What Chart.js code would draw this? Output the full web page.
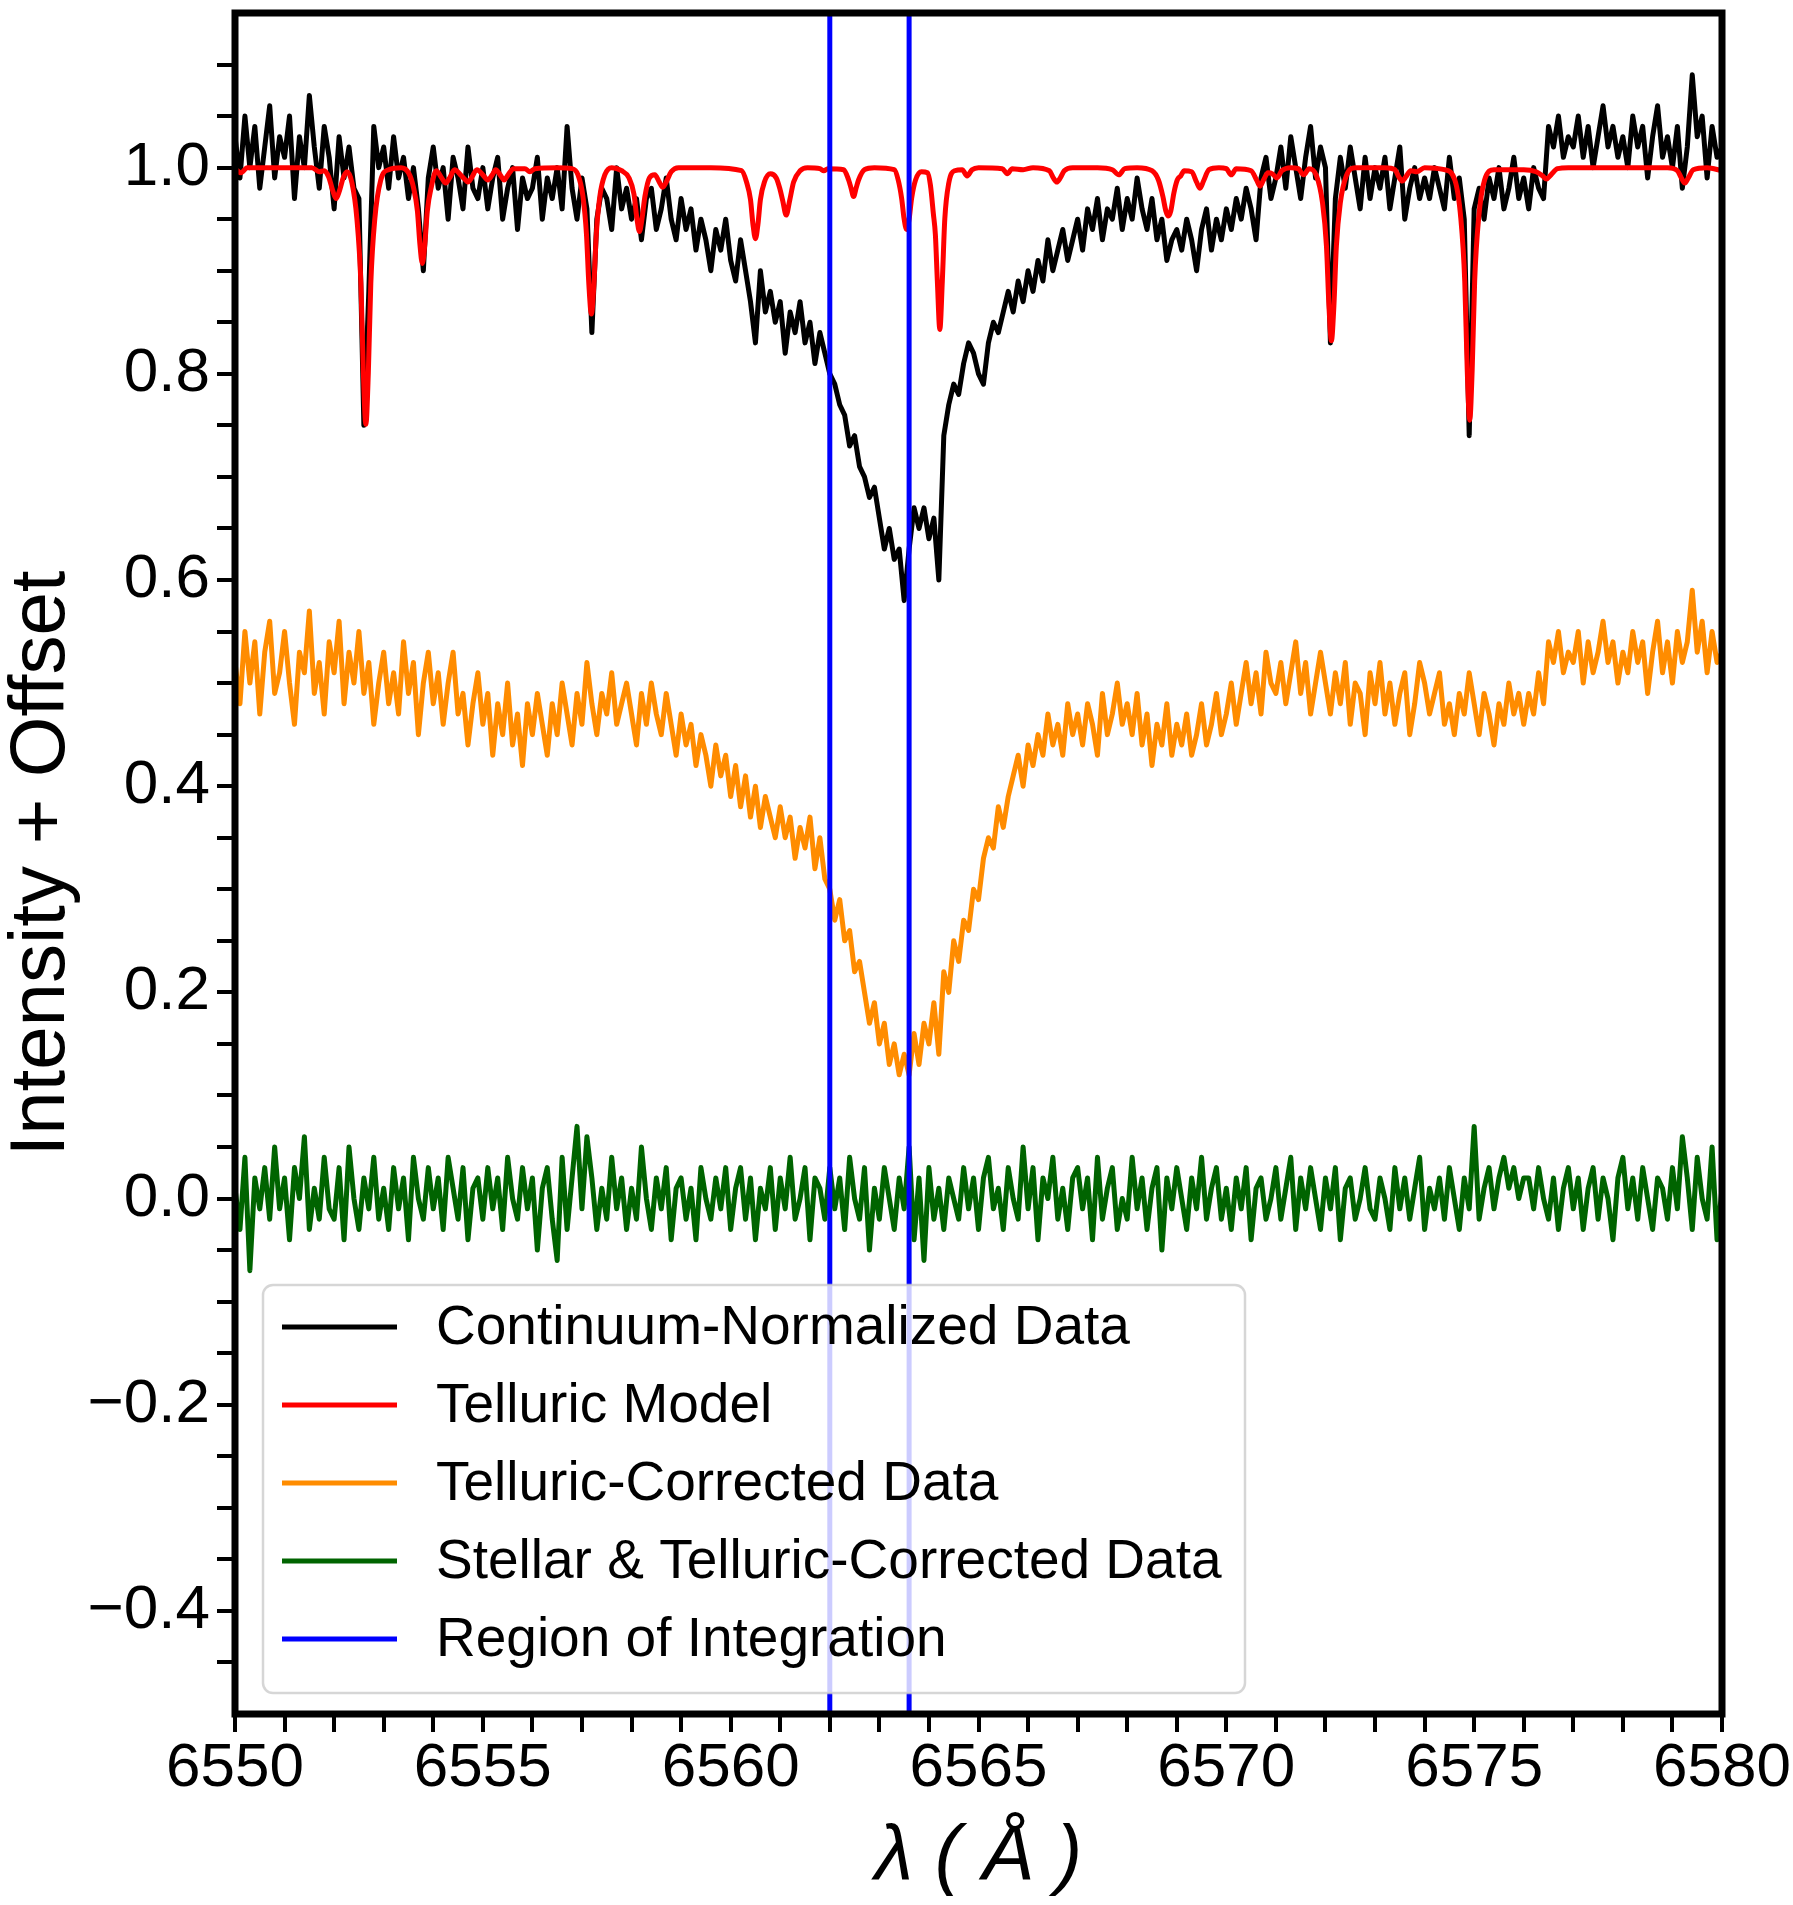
<!DOCTYPE html>
<html>
<head>
<meta charset="utf-8">
<title>Telluric correction around H-alpha</title>
<script src="https://cdn.jsdelivr.net/npm/chart.js@4.4.1/dist/chart.umd.min.js"></script>
<style>
  html, body { margin: 0; padding: 0; background: #fff; }
  #wrap { width: 1793px; height: 1905px; position: relative; }
</style>
</head>
<body>
<div id="wrap"><canvas id="spectrumChart"></canvas></div>
<script>
// Wavelength grid of the observed spectra (Angstrom)
const waveStart = 6550.0;
const waveStep = 0.1;

// Continuum-normalized data, one value per 0.1 A (6550.0 ... 6580.0)
const normalizedFlux = [
  1.03, 0.99, 1.05, 1.00, 1.04, 0.98, 1.02, 1.06, 0.99, 1.03,
  1.01, 1.05, 0.97, 1.03, 1.00, 1.07, 1.02, 0.98, 1.04, 1.01,
  0.96, 1.03, 0.99, 1.02, 0.98, 0.97, 0.75, 0.88, 1.04, 1.00,
  1.02, 0.98, 1.03, 0.99, 1.01, 0.97, 1.00, 0.96, 0.90, 0.99,
  1.02, 0.98, 1.00, 0.95, 1.01, 0.99, 0.96, 1.02, 0.98, 0.97,
  1.00, 0.96, 0.99, 1.01, 0.95, 0.98, 1.00, 0.94, 0.99, 0.97,
  0.98, 1.01, 0.95, 0.99, 0.97, 1.00, 0.96, 1.04, 0.98, 0.95,
  0.99, 0.96, 0.84, 0.95, 0.98, 0.97, 0.94, 1.00, 0.96, 0.98,
  0.95, 0.97, 0.93, 0.97, 0.98, 0.94, 0.96, 0.99, 0.95, 0.93,
  0.97, 0.94, 0.96, 0.92, 0.95, 0.93, 0.90, 0.94, 0.92, 0.95,
  0.91, 0.89, 0.93, 0.90, 0.87, 0.83, 0.90, 0.86, 0.88, 0.85,
  0.87, 0.82, 0.86, 0.84, 0.87, 0.83, 0.85, 0.81, 0.84, 0.82,
  0.80, 0.79, 0.77, 0.76, 0.73, 0.74, 0.71, 0.70, 0.68, 0.69,
  0.66, 0.63, 0.65, 0.62, 0.63, 0.58, 0.63, 0.67, 0.65, 0.67,
  0.64, 0.66, 0.60, 0.74, 0.77, 0.79, 0.78, 0.81, 0.83, 0.82,
  0.80, 0.79, 0.83, 0.85, 0.84, 0.86, 0.88, 0.86, 0.89, 0.87,
  0.90, 0.88, 0.91, 0.89, 0.93, 0.90, 0.92, 0.94, 0.91, 0.93,
  0.95, 0.92, 0.96, 0.94, 0.97, 0.93, 0.96, 0.95, 0.98, 0.94,
  0.97, 0.95, 0.99, 0.96, 0.94, 0.97, 0.93, 0.95, 0.91, 0.93,
  0.94, 0.92, 0.95, 0.93, 0.90, 0.94, 0.96, 0.92, 0.95, 0.93,
  0.96, 0.94, 0.97, 0.95, 0.98, 0.96, 0.93, 0.99, 1.01, 0.97,
  0.99, 1.02, 0.98, 1.03, 1.00, 0.97, 1.01, 1.04, 0.99, 1.02,
  1.00, 0.83, 0.97, 1.01, 0.98, 1.02, 0.99, 0.96, 1.01, 0.97,
  1.00, 0.98, 1.01, 0.96, 0.99, 1.02, 0.95, 0.98, 1.00, 0.97,
  0.99, 0.97, 1.00, 0.98, 0.96, 1.01, 0.97, 0.99, 0.95, 0.74,
  0.96, 0.98, 0.95, 0.99, 0.97, 1.00, 0.96, 0.98, 1.01, 0.97,
  0.99, 0.96, 1.00, 0.98, 0.97, 1.04, 1.02, 1.05, 1.01, 1.03,
  1.02, 1.05, 1.01, 1.04, 1.00, 1.03, 1.06, 1.02, 1.04, 1.01,
  1.03, 1.00, 1.05, 1.02, 1.04, 0.99, 1.03, 1.06, 1.01, 1.03,
  1.00, 1.04, 0.98, 1.02, 1.09, 1.03, 1.05, 0.99, 1.04, 1.01,
  1.02
];

// Telluric-corrected data (already shifted by -0.5), same grid
const correctedFlux = [
  0.52, 0.48, 0.55, 0.50, 0.54, 0.47, 0.53, 0.56, 0.49, 0.51,
  0.55, 0.50, 0.46, 0.53, 0.51, 0.57, 0.49, 0.52, 0.47, 0.54,
  0.51, 0.56, 0.48, 0.53, 0.50, 0.55, 0.49, 0.52, 0.46, 0.50,
  0.53, 0.48, 0.51, 0.47, 0.54, 0.49, 0.52, 0.45, 0.50, 0.53,
  0.48, 0.51, 0.46, 0.50, 0.53, 0.47, 0.49, 0.44, 0.48, 0.51,
  0.46, 0.49, 0.43, 0.48, 0.45, 0.50, 0.44, 0.47, 0.42, 0.48,
  0.45, 0.49, 0.46, 0.43, 0.48, 0.45, 0.50, 0.47, 0.44, 0.49,
  0.46, 0.52, 0.48, 0.45, 0.49, 0.47, 0.51, 0.46, 0.48, 0.50,
  0.47, 0.44, 0.49, 0.46, 0.50, 0.47, 0.45, 0.49, 0.46, 0.43,
  0.47, 0.44, 0.46, 0.42, 0.45, 0.43, 0.40, 0.44, 0.41, 0.43,
  0.39, 0.42, 0.38, 0.41, 0.37, 0.40, 0.36, 0.39, 0.37, 0.35,
  0.38, 0.35, 0.37, 0.33, 0.36, 0.34, 0.37, 0.32, 0.35, 0.31,
  0.30, 0.27, 0.29, 0.25, 0.26, 0.22, 0.23, 0.20, 0.17, 0.19,
  0.15, 0.17, 0.13, 0.15, 0.12, 0.14, 0.12, 0.16, 0.13, 0.17,
  0.15, 0.19, 0.14, 0.22, 0.20, 0.25, 0.23, 0.27, 0.26, 0.30,
  0.29, 0.33, 0.35, 0.34, 0.38, 0.36, 0.39, 0.41, 0.43, 0.40,
  0.44, 0.42, 0.45, 0.43, 0.47, 0.44, 0.46, 0.43, 0.48, 0.45,
  0.47, 0.44, 0.48, 0.46, 0.43, 0.49, 0.45, 0.47, 0.50, 0.46,
  0.48, 0.45, 0.49, 0.44, 0.47, 0.42, 0.46, 0.44, 0.48, 0.43,
  0.46, 0.44, 0.47, 0.43, 0.45, 0.48, 0.44, 0.46, 0.49, 0.45,
  0.47, 0.50, 0.46, 0.49, 0.52, 0.48, 0.51, 0.47, 0.53, 0.50,
  0.49, 0.52, 0.48, 0.51, 0.54, 0.49, 0.52, 0.47, 0.50, 0.53,
  0.50, 0.47, 0.51, 0.48, 0.52, 0.46, 0.50, 0.49, 0.45, 0.51,
  0.48, 0.52, 0.47, 0.50, 0.46, 0.49, 0.51, 0.45, 0.48, 0.52,
  0.50, 0.47, 0.49, 0.51, 0.46, 0.48, 0.45, 0.49, 0.47, 0.51,
  0.48, 0.45, 0.49, 0.47, 0.44, 0.48, 0.46, 0.50, 0.47, 0.49,
  0.46, 0.49, 0.47, 0.51, 0.48, 0.54, 0.52, 0.55, 0.51, 0.53,
  0.52, 0.55, 0.50, 0.54, 0.51, 0.53, 0.56, 0.52, 0.54, 0.50,
  0.53, 0.51, 0.55, 0.52, 0.54, 0.49, 0.53, 0.56, 0.51, 0.54,
  0.50, 0.55, 0.52, 0.54, 0.59, 0.53, 0.56, 0.51, 0.55, 0.52,
  0.53
];

// Stellar & telluric-corrected residuals, same grid
const residualFlux = [
  0.01, -0.03, 0.04, -0.07, 0.02, -0.01, 0.03, -0.02, 0.05, -0.01,
  0.02, -0.04, 0.03, 0.00, 0.06, -0.03, 0.01, -0.02, 0.04, -0.01,
  -0.02, 0.03, -0.04, 0.05, 0.00, -0.03, 0.02, -0.01, 0.04, -0.02,
  0.01, -0.03, 0.03, -0.01, 0.02, -0.04, 0.04, 0.00, -0.02, 0.03,
  -0.01, 0.02, -0.03, 0.04, 0.01, -0.02, 0.03, -0.04, 0.01, 0.02,
  -0.02, 0.03, -0.01, 0.02, -0.03, 0.04, 0.00, -0.02, 0.03, -0.01,
  0.02, -0.05, 0.01, 0.03, -0.02, -0.06, 0.04, -0.03, 0.02, 0.07,
  -0.01, 0.06, 0.02, -0.03, 0.01, -0.02, 0.04, -0.01, 0.02, -0.03,
  0.01, -0.02, 0.05, 0.00, -0.03, 0.02, -0.01, 0.03, -0.04, 0.01,
  0.02, -0.02, 0.01, -0.04, 0.03, 0.00, -0.02, 0.02, -0.01, 0.03,
  -0.03, 0.01, 0.03, -0.02, 0.02, -0.04, 0.01, -0.01, 0.03, -0.03,
  0.02, -0.01, 0.04, -0.02, 0.00, 0.03, -0.04, 0.02, 0.01, -0.02,
  0.03, -0.01, 0.02, -0.03, 0.04, 0.00, -0.02, 0.03, -0.05, 0.01,
  -0.02, 0.03, 0.00, -0.03, 0.02, -0.01, 0.05, -0.04, 0.02, -0.06,
  0.03, -0.02, 0.01, -0.03, 0.02, 0.00, -0.02, 0.03, -0.01, 0.02,
  -0.03, 0.02, 0.04, -0.01, 0.01, -0.03, 0.03, 0.00, -0.02, 0.05,
  -0.01, 0.03, -0.04, 0.02, 0.00, 0.04, -0.02, 0.01, -0.03, 0.02,
  0.03, -0.01, 0.02, -0.04, 0.04, -0.02, 0.01, 0.03, -0.03, 0.00,
  -0.02, 0.04, -0.01, 0.02, -0.03, 0.01, 0.03, -0.05, 0.02, -0.01,
  0.03, 0.00, -0.03, 0.02, -0.01, 0.04, -0.02, 0.01, 0.03, -0.02,
  0.01, -0.03, 0.02, -0.01, 0.03, -0.04, 0.01, 0.02, -0.02, 0.00,
  0.03, -0.02, 0.01, 0.04, -0.03, 0.02, -0.01, 0.03, 0.00, -0.03,
  0.02, -0.01, 0.03, -0.04, 0.01, 0.02, -0.02, 0.00, 0.03, -0.01,
  -0.02, 0.02, 0.00, -0.03, 0.03, -0.01, 0.02, -0.02, 0.01, 0.04,
  -0.03, 0.01, -0.01, 0.02, -0.02, 0.03, 0.00, -0.03, 0.02, -0.01,
  0.07, -0.02, 0.01, 0.03, -0.01, 0.02, 0.04, 0.01, 0.03, 0.00,
  0.02, 0.02, -0.01, 0.03, 0.00, -0.02, 0.02, -0.03, 0.01, 0.03,
  -0.01, 0.02, -0.03, 0.01, 0.03, -0.02, 0.02, 0.00, -0.04, 0.02,
  0.04, -0.01, 0.02, -0.02, 0.03, 0.00, -0.03, 0.02, 0.01, -0.02,
  0.03, -0.01, 0.06, 0.02, -0.03, 0.04, 0.00, -0.02, 0.05, -0.04,
  0.01
];

// Telluric model: [wavelength, transmission]
const telluricPoints = [
  [6550.00, 0.999], [6550.12, 0.995], [6550.25, 1.000],
  [6551.55, 1.000], [6551.70, 0.996], [6551.80, 0.997],
  [6551.89, 0.991], [6551.97, 0.978], [6552.04, 0.970], [6552.11, 0.978], [6552.19, 0.991], [6552.26, 0.996],
  [6552.36, 0.985], [6552.46, 0.950], [6552.54, 0.888], [6552.59, 0.801], [6552.64, 0.751], [6552.69, 0.801],
  [6552.74, 0.888], [6552.82, 0.950], [6552.94, 0.988], [6553.10, 0.998], [6553.35, 1.000],
  [6553.50, 0.995], [6553.60, 0.981], [6553.68, 0.958], [6553.73, 0.926], [6553.78, 0.907], [6553.83, 0.926],
  [6553.88, 0.958], [6553.96, 0.981], [6554.06, 0.997],
  [6554.17, 0.990], [6554.25, 0.985], [6554.33, 0.990], [6554.43, 0.998],
  [6554.55, 0.993], [6554.63, 0.989], [6554.70, 0.986], [6554.77, 0.990], [6554.88, 0.998],
  [6555.00, 0.993], [6555.10, 0.988], [6555.19, 0.993], [6555.26, 0.998],
  [6555.35, 0.993], [6555.43, 0.988], [6555.51, 0.993], [6555.62, 0.999],
  [6555.85, 0.999], [6555.95, 0.996], [6556.05, 0.999], [6556.50, 1.000], [6556.80, 0.999],
  [6556.92, 0.993], [6557.02, 0.972], [6557.09, 0.936], [6557.14, 0.886], [6557.19, 0.858], [6557.24, 0.886],
  [6557.29, 0.936], [6557.36, 0.972], [6557.46, 0.993], [6557.60, 1.000],
  [6557.80, 0.997], [6557.95, 0.990], [6558.05, 0.974], [6558.11, 0.950], [6558.16, 0.938], [6558.21, 0.950],
  [6558.27, 0.972], [6558.36, 0.990],
  [6558.47, 0.993], [6558.56, 0.986], [6558.63, 0.981], [6558.70, 0.986], [6558.80, 0.996], [6558.95, 1.000],
  [6559.60, 1.000],
  [6560.22, 0.997], [6560.32, 0.986], [6560.40, 0.969], [6560.45, 0.945], [6560.50, 0.931], [6560.55, 0.945],
  [6560.60, 0.969], [6560.68, 0.986], [6560.80, 0.994],
  [6560.92, 0.990], [6560.99, 0.980], [6561.05, 0.968], [6561.12, 0.954], [6561.19, 0.968], [6561.27, 0.986],
  [6561.40, 0.997], [6561.55, 1.000],
  [6561.80, 0.999], [6561.88, 0.997], [6561.96, 0.999],
  [6562.28, 0.998], [6562.38, 0.988], [6562.43, 0.980], [6562.48, 0.972], [6562.53, 0.980], [6562.58, 0.988],
  [6562.70, 0.998], [6562.90, 1.000],
  [6563.30, 0.998], [6563.38, 0.988], [6563.45, 0.970], [6563.50, 0.950], [6563.55, 0.940], [6563.60, 0.950],
  [6563.65, 0.970], [6563.73, 0.988], [6563.85, 0.996],
  [6563.97, 0.995], [6564.03, 0.983], [6564.09, 0.955], [6564.13, 0.935], [6564.17, 0.890], [6564.22, 0.843],
  [6564.27, 0.890], [6564.32, 0.950], [6564.40, 0.985], [6564.52, 0.997],
  [6564.67, 0.998], [6564.77, 0.992], [6564.87, 0.998], [6565.00, 1.000],
  [6565.48, 0.999], [6565.58, 0.994], [6565.68, 0.999], [6565.90, 0.998], [6566.10, 1.000],
  [6566.43, 0.997], [6566.51, 0.990], [6566.58, 0.986], [6566.65, 0.990], [6566.73, 0.997], [6566.90, 1.000],
  [6567.40, 1.000],
  [6567.70, 0.998], [6567.83, 0.993], [6567.95, 0.999], [6568.20, 1.000],
  [6568.50, 0.997], [6568.63, 0.988], [6568.72, 0.972], [6568.78, 0.958], [6568.83, 0.953], [6568.88, 0.958],
  [6568.94, 0.975], [6569.01, 0.988], [6569.08, 0.992], [6569.15, 0.997],
  [6569.30, 0.996], [6569.40, 0.986], [6569.47, 0.980], [6569.54, 0.987], [6569.65, 0.998], [6569.85, 1.000],
  [6570.00, 0.999], [6570.10, 0.993], [6570.20, 0.999],
  [6570.50, 0.997], [6570.61, 0.988], [6570.68, 0.982], [6570.75, 0.988], [6570.84, 0.995],
  [6570.93, 0.994], [6571.02, 0.990], [6571.12, 0.997], [6571.30, 1.000],
  [6571.45, 0.999], [6571.56, 0.993], [6571.67, 0.999],
  [6571.82, 0.992], [6571.94, 0.966], [6572.02, 0.924], [6572.07, 0.866], [6572.12, 0.832], [6572.17, 0.866],
  [6572.22, 0.924], [6572.30, 0.966], [6572.42, 0.992], [6572.60, 1.000], [6573.20, 1.000],
  [6573.40, 0.998], [6573.48, 0.991], [6573.55, 0.987], [6573.62, 0.991], [6573.72, 0.997], [6573.85, 0.996],
  [6574.00, 1.000], [6574.40, 0.998],
  [6574.61, 0.988], [6574.73, 0.951], [6574.81, 0.890], [6574.86, 0.804], [6574.91, 0.755], [6574.96, 0.804],
  [6575.01, 0.890], [6575.09, 0.951], [6575.21, 0.988], [6575.40, 0.998], [6576.00, 0.998],
  [6576.25, 0.996], [6576.38, 0.992], [6576.46, 0.989], [6576.55, 0.993], [6576.68, 0.999], [6576.90, 1.000],
  [6578.90, 1.000],
  [6579.10, 0.997], [6579.18, 0.990], [6579.25, 0.985], [6579.32, 0.990], [6579.42, 0.998], [6579.70, 1.000],
  [6580.00, 0.997]
];

// Region of integration edges (Angstrom)
const integrationBounds = [6562.0, 6563.6];

// Axis ranges and tick labels
const xRange = [6550, 6580];
const yRange = [-0.5, 1.15];
const xTickValues = [6550, 6555, 6560, 6565, 6570, 6575, 6580];
const xTickLabels = ['6550', '6555', '6560', '6565', '6570', '6575', '6580'];
const yTickValues = [-0.4, -0.2, 0.0, 0.2, 0.4, 0.6, 0.8, 1.0];
const yTickLabels = ['\u22120.4', '\u22120.2', '0.0', '0.2', '0.4', '0.6', '0.8', '1.0'];
const xMinorStep = 1;
const yMinorStep = 0.05;

const FONT = '"Liberation Sans", Arial, Helvetica, sans-serif';

function onGrid(values) {
  return values.map((y, i) => ({ x: waveStart + i * waveStep, y: y }));
}

function labelFor(values, labels, v) {
  const i = values.findIndex(t => Math.abs(t - v) < 1e-6);
  return i >= 0 ? labels[i] : '';
}

// vertical lines for the integration window, split by a gap
const boundaryData = [];
integrationBounds.forEach((b, i) => {
  if (i > 0) boundaryData.push({ x: (integrationBounds[i - 1] + b) / 2, y: null });
  boundaryData.push({ x: b, y: yRange[0] }, { x: b, y: yRange[1] });
});

// frame, legend and axis titles drawn on top like matplotlib does
const decorPlugin = {
  id: 'decor',
  afterDraw(chart) {
    const { ctx, chartArea: a } = chart;
    ctx.save();

    ctx.lineWidth = 7;
    ctx.strokeStyle = '#000';
    ctx.strokeRect(a.left, a.top, a.right - a.left, a.bottom - a.top);

    // legend box, lower left
    const bx = a.left + 28, by = a.bottom - 429, bw = 982, bh = 408, r = 10;
    ctx.beginPath();
    ctx.moveTo(bx + r, by);
    ctx.arcTo(bx + bw, by, bx + bw, by + bh, r);
    ctx.arcTo(bx + bw, by + bh, bx, by + bh, r);
    ctx.arcTo(bx, by + bh, bx, by, r);
    ctx.arcTo(bx, by, bx + bw, by, r);
    ctx.closePath();
    ctx.fillStyle = 'rgba(255,255,255,0.8)';
    ctx.fill();
    ctx.lineWidth = 2.5;
    ctx.strokeStyle = 'rgba(204,204,204,0.8)';
    ctx.stroke();

    ctx.font = '55px ' + FONT;
    ctx.textAlign = 'left';
    ctx.textBaseline = 'middle';
    chart.data.datasets.forEach((ds, i) => {
      const y = by + 42 + i * 78;
      ctx.beginPath();
      ctx.moveTo(bx + 19, y);
      ctx.lineTo(bx + 134, y);
      ctx.lineWidth = 5;
      ctx.strokeStyle = ds.borderColor;
      ctx.stroke();
      ctx.fillStyle = '#000';
      ctx.fillText(ds.label, bx + 173, y + 2);
    });

    // axis titles
    ctx.fillStyle = '#000';
    ctx.textAlign = 'center';
    ctx.textBaseline = 'alphabetic';
    ctx.font = 'italic 78px ' + FONT;
    ctx.fillText('\u03bb ( \u00c5 )', (a.left + a.right) / 2, 1880);

    ctx.translate(64, (a.top + a.bottom) / 2);
    ctx.rotate(-Math.PI / 2);
    ctx.font = '78px ' + FONT;
    ctx.fillText('Intensity + Offset', 0, 0);
    ctx.restore();
  }
};

const tickStyle = {
  grid: { display: true, drawOnChartArea: false, drawTicks: true, tickLength: 18, tickWidth: 4, tickColor: '#000', color: '#000', lineWidth: 4 },
  border: { display: false }
};

new Chart(document.getElementById('spectrumChart').getContext('2d'), {
  type: 'line',
  data: {
    datasets: [
      { label: 'Continuum-Normalized Data', data: onGrid(normalizedFlux), borderColor: '#000000', borderWidth: 5, order: 5 },
      { label: 'Telluric Model', data: telluricPoints.map(p => ({ x: p[0], y: p[1] })), borderColor: '#ff0000', borderWidth: 5, cubicInterpolationMode: 'monotone', order: 4 },
      { label: 'Telluric-Corrected Data', data: onGrid(correctedFlux), borderColor: '#ff8c00', borderWidth: 5, order: 3 },
      { label: 'Stellar & Telluric-Corrected Data', data: onGrid(residualFlux), borderColor: '#006400', borderWidth: 5, order: 2 },
      { label: 'Region of Integration', data: boundaryData, borderColor: '#0000ff', borderWidth: 5, spanGaps: false, order: 1 }
    ]
  },
  options: {
    responsive: true,
    maintainAspectRatio: false,
    devicePixelRatio: 1,
    animation: false,
    events: [],
    layout: { padding: { top: 13, right: 71, left: 0, bottom: 0 } },
    elements: {
      point: { radius: 0 },
      line: { tension: 0, fill: false, borderJoinStyle: 'round' }
    },
    plugins: {
      legend: { display: false },
      tooltip: { enabled: false }
    },
    scales: {
      x: {
        type: 'linear',
        min: xRange[0],
        max: xRange[1],
        ...tickStyle,
        ticks: {
          autoSkip: false, maxRotation: 0, minRotation: 0, padding: 0, color: '#000',
          font: { family: FONT, size: 62, lineHeight: 1.2 },
          callback: (v) => labelFor(xTickValues, xTickLabels, v)
        },
        afterBuildTicks(scale) {
          const t = [];
          for (let k = 0; xRange[0] + k * xMinorStep <= xRange[1]; k++) t.push({ value: xRange[0] + k * xMinorStep });
          scale.ticks = t;
        },
        afterFit(scale) {
          scale.height = 191;
          scale.paddingLeft = 0; scale.paddingRight = 0;
          scale.paddingTop = 0; scale.paddingBottom = 0;
        }
      },
      y: {
        type: 'linear',
        min: yRange[0],
        max: yRange[1],
        ...tickStyle,
        ticks: {
          autoSkip: false, padding: 7, color: '#000',
          font: { family: FONT, size: 62, lineHeight: 1.2 },
          callback: (v) => labelFor(yTickValues, yTickLabels, v)
        },
        afterBuildTicks(scale) {
          const t = [];
          for (let k = -9; k <= 22; k++) t.push({ value: Math.round(k * yMinorStep * 100) / 100 });
          scale.ticks = t;
        },
        afterFit(scale) {
          scale.width = 235;
          scale.paddingLeft = 0; scale.paddingRight = 0;
          scale.paddingTop = 0; scale.paddingBottom = 0;
        }
      }
    }
  },
  plugins: [decorPlugin]
});
</script>
</body>
</html>
